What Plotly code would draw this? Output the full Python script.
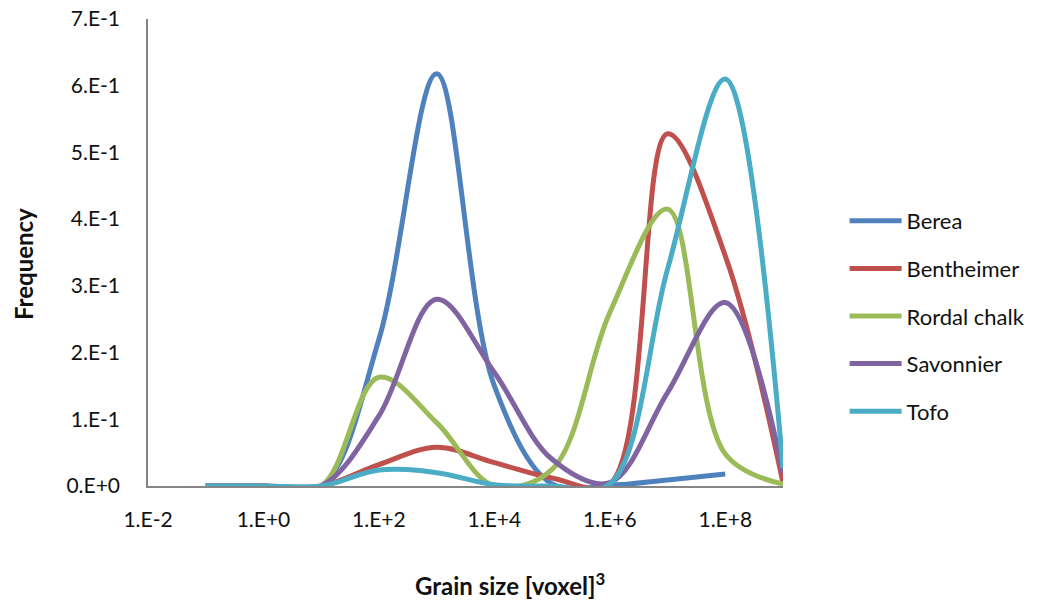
import plotly.graph_objects as go

grain_size = [1e-1, 1e0, 1e1, 1e2, 1e3, 1e4, 1e5, 1e6, 1e7, 1e8, 1e9]

berea = [0.0, 0.0, 0.0, 0.22, 0.618, 0.15, 0.003, 0.001, 0.009, 0.018, None]
bentheimer = [0.0, 0.0, 0.0, 0.032, 0.058, 0.035, 0.012, 0.003, 0.528, 0.345, 0.005]
rordal_chalk = [0.0, 0.0, 0.0, 0.163, 0.095, 0.0, 0.025, 0.26, 0.415, 0.048, 0.003]
savonnier = [0.0, 0.0, 0.0, 0.105, 0.28, 0.17, 0.04, 0.005, 0.14, 0.275, 0.02]
tofo = [0.0, 0.0, 0.0, 0.024, 0.02, 0.002, 0.0, 0.003, 0.325, 0.61, 0.027]

series_names = ["Berea", "Bentheimer", "Rordal chalk", "Savonnier", "Tofo"]
series_values = [berea, bentheimer, rordal_chalk, savonnier, tofo]
colors = ["#4F81BD", "#C0504D", "#9BBB59", "#8064A2", "#4BACC6"]

x_tick_vals = [1e-2, 1e0, 1e2, 1e4, 1e6, 1e8]
x_tick_text = ["1.E-2", "1.E+0", "1.E+2", "1.E+4", "1.E+6", "1.E+8"]
y_tick_vals = [0, 0.1, 0.2, 0.3, 0.4, 0.5, 0.6, 0.7]
y_tick_text = ["0.E+0", "1.E-1", "2.E-1", "3.E-1", "4.E-1", "5.E-1", "6.E-1", "7.E-1"]

fig = go.Figure()
for name, vals, col in zip(series_names, series_values, colors):
    fig.add_trace(go.Scatter(
        x=grain_size, y=vals, name=name, mode="lines",
        line=dict(color=col, width=5, shape="spline", smoothing=1.0),
        legendgroup=name,
    ))

# page body has an 8px margin, so the figure is laid out 8px smaller/shifted
OFF = 8
W, H = 1041 - OFF, 606 - OFF
L, T = 148 - OFF, 19 - OFF
R = W - (783 - OFF)
B = H - (486 - OFF)
PW, PH = W - L - R, H - T - B

def px_x(px):
    return (px - OFF - L) / PW

def px_y(py):
    return ((486 - OFF) - (py - OFF)) / PH

fig.update_layout(
    width=W, height=H,
    margin=dict(l=L, r=R, t=T, b=B, autoexpand=False),
    paper_bgcolor="white", plot_bgcolor="white",
    font=dict(family="Lato", size=21, color="#111111"),
    showlegend=True,
    legend=dict(
        x=1.097, y=px_y(316), xanchor="left", yanchor="middle",
        font=dict(family="Lato", size=22, color="#111111"),
        tracegroupgap=16, itemwidth=52, bgcolor="rgba(0,0,0,0)",
    ),
    xaxis=dict(
        type="log", range=[-2, 9],
        tickvals=x_tick_vals, ticktext=x_tick_text,
        showgrid=False, zeroline=False,
        showline=True, linecolor="#868686", linewidth=1.5,
        ticks="", ticklabelstandoff=14, ticklabeloverflow="allow",
        tickfont=dict(family="Lato", size=21, color="#111111"),
    ),
    yaxis=dict(
        range=[0, 0.7],
        tickvals=y_tick_vals, ticktext=y_tick_text,
        showgrid=False, zeroline=False,
        showline=True, linecolor="#868686", linewidth=1.5,
        ticks="", ticklabelstandoff=22, ticklabeloverflow="allow",
        tickfont=dict(family="Lato", size=21, color="#111111"),
    ),
    annotations=[
        dict(text="<b>Frequency</b>", textangle=-90, xref="paper", yref="paper",
             x=px_x(24), y=px_y(264),
             xanchor="center", yanchor="middle", showarrow=False,
             font=dict(family="Lato", size=24, color="#111111")),
        dict(text="<b>Grain size [voxel]<sup>3</sup></b>", xref="paper", yref="paper",
             x=px_x(510), y=px_y(584),
             xanchor="center", yanchor="middle", showarrow=False,
             font=dict(family="Lato", size=24, color="#111111")),
    ],
)

fig.write_html("out.html")
